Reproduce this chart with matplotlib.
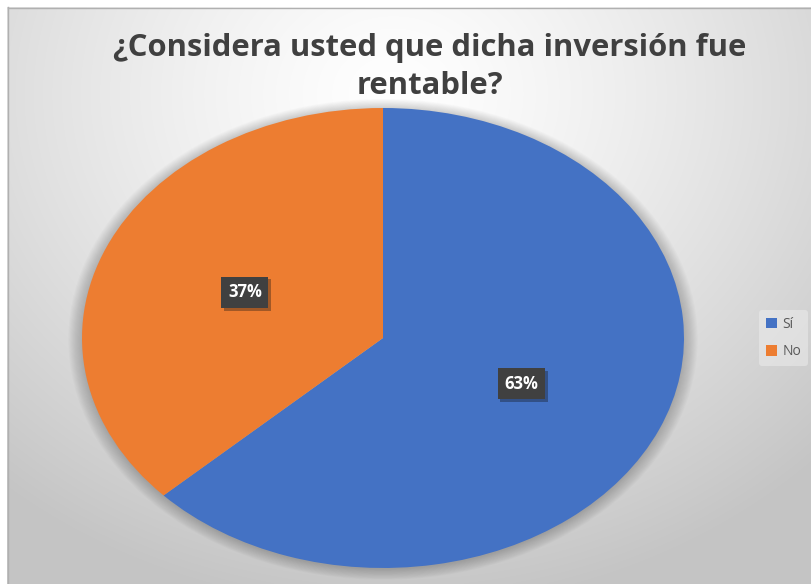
import numpy as np
import matplotlib.pyplot as plt
from matplotlib.patches import Ellipse
import matplotlib.patheffects as pe

categories = ["Sí", "No"]
values = [63, 37]
colors = ["#4472C4", "#ED7D31"]
title = "¿Considera usted que dicha inversión fue\nrentable?"

W, H = 812, 584
fig = plt.figure(figsize=(W/100, H/100), dpi=100)
fig.patch.set_facecolor("white")

# background gradient
bg = fig.add_axes([7/W, 0, (W-7)/W, (H-7)/H], zorder=0)
yy, xx = np.mgrid[0:300, 0:400]
xx = xx / 399.0
yy = yy / 299.0
d = np.sqrt(((xx-0.48)/0.75)**2 + ((yy-0.85)/0.9)**2)
v = 1.0 - 0.23*np.clip(d, 0, 1)**1.3
img = np.dstack([v, v, v])
bg.imshow(img, extent=[0, 1, 0, 1], origin="lower", aspect="auto", interpolation="bilinear")
bg.set_xlim(0, 1); bg.set_ylim(0, 1)
bg.axis("off")
fig.add_artist(plt.Line2D([7.5/W, 7.5/W], [0, (H-7)/H], color="#b0b0b0", lw=1))
fig.add_artist(plt.Line2D([7.5/W, 1], [(H-7.5)/H, (H-7.5)/H], color="#b0b0b0", lw=1))

ax = fig.add_axes([82/W, 16/H, 602/W, 460/H], zorder=2)
ax.axis("off")
# soft shadow
for i in range(14):
    s = 1.0 + 0.0035*i
    ax.add_patch(Ellipse((0.0, -0.006), 2*s, 2*s, facecolor="black", alpha=0.016, lw=0,
                         zorder=0, clip_on=False))
wedges, texts, autotexts = ax.pie(values, colors=colors, startangle=90, counterclock=False,
                                  autopct="%1.0f%%", pctdistance=0.5, radius=1,
                                  wedgeprops=dict(linewidth=0, zorder=1))
ax.set_aspect("auto")
ax.set_xlim(-1, 1); ax.set_ylim(-1, 1)
for t in autotexts:
    t.set_color("white")
    t.set_fontweight("bold")
    t.set_fontsize(12)
    t.set_family("Open Sans")
    t.set_bbox(dict(boxstyle="square,pad=0.4", facecolor="#404040", edgecolor="none",
                    path_effects=[pe.SimplePatchShadow(offset=(2, -2), alpha=0.35), pe.Normal()]))
    t.set_zorder(5)

fig.text(430/W, (H-67)/H, title, ha="center", va="center", fontsize=22.3, fontweight="bold",
         color="#404040", family="Open Sans", linespacing=1.38)

leg = fig.legend(wedges, categories, loc="center left", bbox_to_anchor=(752/W, (H-338)/H),
                 frameon=True, fontsize=10, handlelength=0.8, handleheight=0.8,
                 labelspacing=0.9, handletextpad=0.4, borderpad=0.5)
leg.get_frame().set_facecolor("#eeeeee")
leg.get_frame().set_edgecolor("none")
leg.get_frame().set_alpha(0.5)
for t in leg.get_texts():
    t.set_color("#595959")
    t.set_family("Open Sans")

fig.savefig("out.png", dpi=100)
